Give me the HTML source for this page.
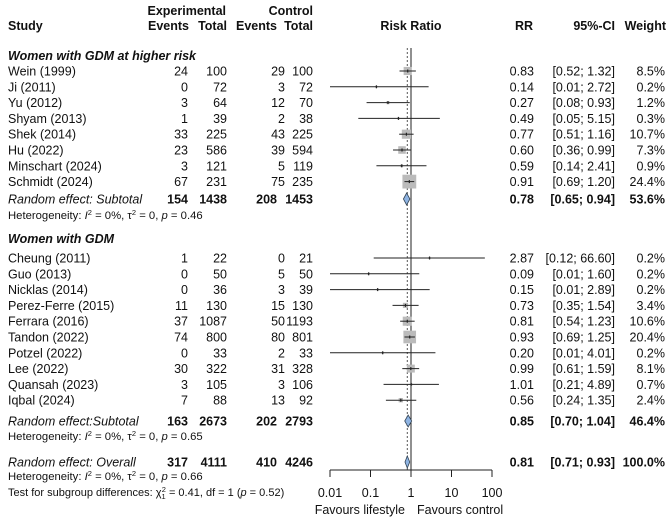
<!DOCTYPE html>
<html><head><meta charset="utf-8">
<style>
body{margin:0;background:#fff;}
svg{display:block;font-family:"Liberation Sans",Arial,sans-serif;font-size:12.5px;fill:#111;}
.b{font-weight:bold}.i{font-style:italic}
</style></head>
<body>
<svg id="plot" width="669" height="520" xmlns="http://www.w3.org/2000/svg">
<g class="b">
<text x="8" y="30">Study</text>
<text x="226" y="15" text-anchor="end">Experimental</text>
<text x="313" y="15" text-anchor="end">Control</text>
<text x="189" y="30" text-anchor="end">Events</text>
<text x="227" y="30" text-anchor="end">Total</text>
<text x="277" y="30" text-anchor="end">Events</text>
<text x="313" y="30" text-anchor="end">Total</text>
<text x="411" y="30" text-anchor="middle">Risk Ratio</text>
<text x="533" y="30" text-anchor="end">RR</text>
<text x="615" y="30" text-anchor="end">95%-CI</text>
<text x="666" y="30" text-anchor="end">Weight</text>
</g>
<g id="rows"></g>
</svg>
<script>
const studies=["Wein (1999)","Ji (2011)","Yu (2012)","Shyam (2013)","Shek (2014)","Hu (2022)","Minschart (2024)","Schmidt (2024)",
"Cheung (2011)","Guo (2013)","Nicklas (2014)","Perez-Ferre (2015)","Ferrara (2016)","Tandon (2022)","Potzel (2022)","Lee (2022)","Quansah (2023)","Iqbal (2024)"];
const rowY=[71,86.8,102.6,118.4,134.2,150,165.8,181.6,258,273.8,289.6,305.4,321.2,337,352.8,368.6,384.4,400.2];
const expEvents=[24,0,3,1,33,23,3,67,1,0,0,11,37,74,0,30,3,7];
const expTotal=[100,72,64,39,225,586,121,231,22,50,36,130,1087,800,33,322,105,88];
const ctlEvents=[29,3,12,2,43,39,5,75,0,5,3,15,50,80,2,31,3,13];
const ctlTotal=[100,72,70,38,225,594,119,235,21,50,39,130,1193,801,33,328,106,92];
const rr=[0.83,0.14,0.27,0.49,0.77,0.60,0.59,0.91,2.87,0.09,0.15,0.73,0.81,0.93,0.20,0.99,1.01,0.56];
const lo=[0.52,0.01,0.08,0.05,0.51,0.36,0.14,0.69,0.12,0.01,0.01,0.35,0.54,0.69,0.01,0.61,0.21,0.24];
const hi=[1.32,2.72,0.93,5.15,1.16,0.99,2.41,1.20,66.60,1.60,2.89,1.54,1.23,1.25,4.01,1.59,4.89,1.35];
const weight=[8.5,0.2,1.2,0.3,10.7,7.3,0.9,24.4,0.2,0.2,0.2,3.4,10.6,20.4,0.2,8.1,0.7,2.4];
const pooledLabels=["Random effect: Subtotal","Random effect:Subtotal","Random effect: Overall"];
const pooledY=[199,421,462];
const pooledE=[154,163,317],pooledET=[1438,2673,4111],pooledC=[208,202,410],pooledCT=[1453,2793,4246];
const pooledRR=[0.78,0.85,0.81],pooledLo=[0.65,0.70,0.71],pooledHi=[0.94,1.04,0.93],pooledW=[53.6,46.4,100.0];
const ticks=[0.01,0.1,1,10,100];
const tickLabels=["0.01","0.1","1","10","100"];
const X=v=>411+40.5*Math.log10(v);
const NS="http://www.w3.org/2000/svg";
const g=document.getElementById('rows');
function el(t,a,txt){const e=document.createElementNS(NS,t);for(const k in a)e.setAttribute(k,a[k]);if(txt!==undefined)e.textContent=txt;g.appendChild(e);return e;}
const f2=v=>v.toFixed(2);
let e=el('line',{x1:X(1),x2:X(1),y1:48,y2:470,stroke:'#222','stroke-width':1});


e=el('line',{x1:X(0.81),x2:X(0.81),y1:48,y2:470,stroke:'#555','stroke-width':1,'stroke-dasharray':'2,2'});


e=el('text',{x:8,y:60,class:'b i'},'Women with GDM at higher risk');


e=el('text',{x:8,y:243,class:'b i'},'Women with GDM');


studies.forEach((s,i)=>{const cy=rowY[i], y=cy+4.5;
 e=el('text',{x:8,y:y},s);
 el('text',{x:188,y:y,'text-anchor':'end'},expEvents[i]);
 el('text',{x:227,y:y,'text-anchor':'end'},expTotal[i]);
 el('text',{x:285,y:y,'text-anchor':'end'},ctlEvents[i]);
 el('text',{x:313,y:y,'text-anchor':'end'},ctlTotal[i]);
 el('text',{x:534,y:y,'text-anchor':'end'},f2(rr[i]));
 el('text',{x:615,y:y,'text-anchor':'end'},'['+f2(lo[i])+'; '+f2(hi[i])+']');
 el('text',{x:665,y:y,'text-anchor':'end'},weight[i].toFixed(1)+'%');
 const sz=Math.max(2,2.8*Math.sqrt(weight[i]));
 e=el('rect',{x:X(rr[i])-sz/2,y:cy-sz/2,width:sz,height:sz,fill:'#bbb'});
 
 e=el('line',{x1:X(Math.max(lo[i],0.01)),x2:X(Math.min(hi[i],100)),y1:cy,y2:cy,stroke:'#222','stroke-width':1});
 
 el('line',{x1:X(rr[i]),x2:X(rr[i]),y1:cy-1.5,y2:cy+1.5,stroke:'#222','stroke-width':1.2});
});
pooledY.forEach((cy,i)=>{const y=cy+4.5;
 e=el('text',{x:8,y:y,class:'i'},pooledLabels[i]);
 el('text',{x:188,y:y,'text-anchor':'end',class:'b'},pooledE[i]);
 el('text',{x:227,y:y,'text-anchor':'end',class:'b'},pooledET[i]);
 el('text',{x:277,y:y,'text-anchor':'end',class:'b'},pooledC[i]);
 el('text',{x:313,y:y,'text-anchor':'end',class:'b'},pooledCT[i]);
 el('text',{x:534,y:y,'text-anchor':'end',class:'b'},f2(pooledRR[i]));
 el('text',{x:615,y:y,'text-anchor':'end',class:'b'},'['+f2(pooledLo[i])+'; '+f2(pooledHi[i])+']');
 el('text',{x:665,y:y,'text-anchor':'end',class:'b'},pooledW[i].toFixed(1)+'%');
 e=el('polygon',{points:`${X(pooledLo[i])},${cy} ${X(pooledRR[i])},${cy-6} ${X(pooledHi[i])},${cy} ${X(pooledRR[i])},${cy+6}`,fill:'#8fb4e3',stroke:'#345','stroke-width':0.8});
 
});
const het=[[219,'0.46'],[440,'0.65'],[480,'0.66']];
het.forEach(([y,p])=>{
 e=el('text',{x:8,y:y,'font-size':'11.3'});
 e.innerHTML='Heterogeneity: <tspan font-style="italic">I</tspan><tspan dy="-4" font-size="7.5">2</tspan><tspan dy="4"> = 0%, τ</tspan><tspan dy="-4" font-size="7.5">2</tspan><tspan dy="4"> = 0, </tspan><tspan font-style="italic">p</tspan> = '+p;
 
});
e=el('text',{x:8,y:496,'font-size':'11'});
e.innerHTML='Test for subgroup differences: χ<tspan dy="3" font-size="7.5">1</tspan><tspan dy="-7" dx="-4" font-size="7.5">2</tspan><tspan dy="4"> = 0.41, df = 1 (</tspan><tspan font-style="italic">p</tspan> = 0.52)';

e=el('line',{x1:X(0.01),x2:X(100),y1:470,y2:470,stroke:'#222'});

ticks.forEach((t,i)=>{
 el('line',{x1:X(t),x2:X(t),y1:470,y2:477,stroke:'#222'});
 e=el('text',{x:X(t),y:497,'text-anchor':'middle'},tickLabels[i]);
 
});
e=el('text',{x:X(1)-6,y:514,'text-anchor':'end'},'Favours lifestyle');

e=el('text',{x:X(1)+6,y:514},'Favours control');

</script>
</body></html>
